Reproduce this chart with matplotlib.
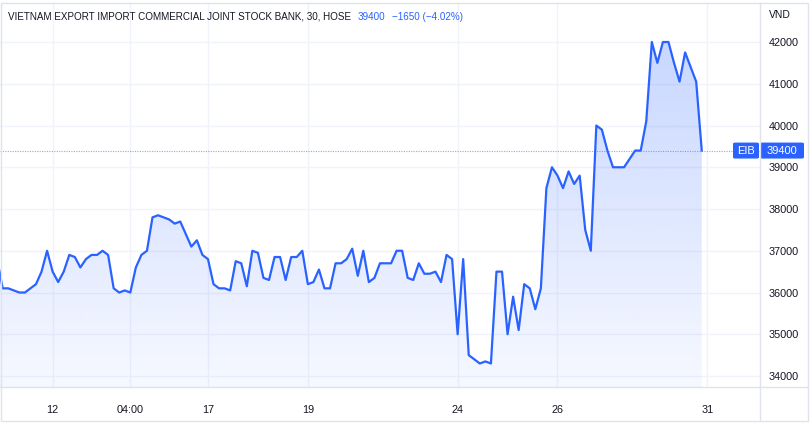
import numpy as np
import matplotlib
matplotlib.use('Agg')
import matplotlib.pyplot as plt
from matplotlib import font_manager
from matplotlib.patches import Rectangle, Polygon, FancyBboxPatch
from matplotlib.lines import Line2D

# ---------------- data ----------------
prices = [
    36800,
    36100, 36100, 36050, 36000, 36000, 36100, 36200, 36500, 37000, 36500,
    36250, 36500, 36900, 36850, 36600, 36800, 36900, 36900, 37000, 36900,
    36100, 36000, 36050, 36000, 36600, 36900, 37000, 37800, 37850, 37800,
    37750, 37650, 37700, 37400, 37100, 37250, 36900, 36800, 36200, 36100,
    36100, 36050, 36750, 36700, 36150, 37000, 36950, 36350, 36300, 36850,
    36850, 36300, 36850, 36850, 37000, 36200, 36250, 36550, 36100, 36100,
    36700, 36700, 36800, 37050, 36400, 37000, 36250, 36350, 36700, 36700,
    36700, 37000, 37000, 36350, 36300, 36700, 36450, 36450, 36500, 36250,
    36900, 36800, 35000, 36800, 34500, 34400, 34300, 34350, 34300, 36500,
    36500, 35000, 35900, 35100, 36200, 36100, 35600, 36100, 38500, 39000,
    38800, 38500, 38900, 38600, 38800, 37500, 37000, 40000, 39900, 39400,
    39000, 39000, 39000, 39200, 39400, 39400, 40100, 42000, 41500, 42000,
    42000, 41500, 41050, 41750, 41400, 41050, 39400,
]
bar_index = list(range(-1, len(prices) - 1))

x_tick_positions = [9, 23, 37, 55, 82, 100, 127]
x_tick_labels = ['12', '04:00', '17', '19', '24', '26', '31']
y_ticks = [34000, 35000, 36000, 37000, 38000, 39000, 40000, 41000, 42000]

last_price = 39400
title = "VIETNAM EXPORT IMPORT COMMERCIAL JOINT STOCK BANK, 30, HOSE"
price_text = "39400"
change_text = "\u22121650 (\u22124.02%)"
symbol = "EIB"
currency = "VND"

# ---------------- style ----------------
BLUE = '#2962FF'
TXT = '#131722'
GRID = '#f0f3fa'
BORDER = '#e0e3eb'

names = {f.name for f in font_manager.fontManager.ttflist}
BASE = 'Liberation Sans' if 'Liberation Sans' in names else 'DejaVu Sans'
plt.rcParams['font.family'] = [BASE, 'DejaVu Sans']

W, H = 810, 424
fig = plt.figure(figsize=(W / 100, H / 100), dpi=100)
fig.patch.set_facecolor('white')


def fx(px):
    return px / W


def fy(py):
    return 1 - py / H


PLOT_TOP, PLOT_BOTTOM, PLOT_RIGHT = 3, 387, 760
ax = fig.add_axes([0, fy(PLOT_BOTTOM), fx(PLOT_RIGHT), (PLOT_BOTTOM - PLOT_TOP) / H])
xlim = (-0.487, 136.5)
ylim = (33737, 42934)
ax.set_xlim(*xlim)
ax.set_ylim(*ylim)

# gradient fill under the line
xs = np.array(bar_index, dtype=float)
ys = np.array(prices, dtype=float)
verts = [(xs[0], ylim[0])] + list(zip(xs, ys)) + [(xs[-1], ylim[0])]
poly = Polygon(verts, closed=True, facecolor='none', edgecolor='none')
ax.add_patch(poly)
n = 256
alpha = np.linspace(0.28, 0.04, n)
rgba = np.zeros((n, 1, 4))
rgba[..., 0] = 41 / 255
rgba[..., 1] = 98 / 255
rgba[..., 2] = 1.0
rgba[:, 0, 3] = alpha
im = ax.imshow(rgba, extent=[xlim[0], xlim[1], ylim[0], ylim[1]], origin='upper',
               aspect='auto', interpolation='bilinear', zorder=1)
im.set_clip_path(poly)

ax.plot(xs, ys, color=BLUE, lw=1.6, solid_joinstyle='round', zorder=3)
ax.axhline(last_price, color=BLUE, lw=0.8, ls=(0, (1, 1.2)), alpha=0.55, zorder=2)

ax.set_xticks(x_tick_positions)
ax.set_xticklabels(x_tick_labels)
ax.set_yticks(y_ticks)
ax.yaxis.tick_right()
ax.grid(True, color=GRID, lw=1, zorder=0)
ax.set_axisbelow(True)
ax.tick_params(axis='y', length=0, pad=6.5, labelsize=7.8, labelcolor=TXT)
ax.tick_params(axis='x', length=0, pad=13, labelsize=7.8, labelcolor=TXT)
for s in ax.spines.values():
    s.set_visible(False)

# separators and frame
fig.add_artist(Line2D([0, fx(808)], [fy(PLOT_BOTTOM), fy(PLOT_BOTTOM)], color=BORDER, lw=1))
fig.add_artist(Line2D([fx(PLOT_RIGHT), fx(PLOT_RIGHT)], [fy(421), fy(PLOT_TOP)], color=BORDER, lw=1))
fig.add_artist(Rectangle((fx(0.5), fy(421)), fx(807.5), (421 - 3) / H, fill=False,
                         edgecolor=BORDER, lw=1))

# header: fit title to reference width (x 8 -> 351 px)
renderer = fig.canvas.get_renderer()
t = fig.text(fx(8), fy(16.5), title, fontsize=7.8, color=TXT, va='center', ha='left')
w = t.get_window_extent(renderer).width
t.set_fontsize(7.8 * 343 / w)
w = t.get_window_extent(renderer).width
hdr_size = t.get_fontsize()
p = fig.text(fx(8 + w + 7), fy(16.5), price_text, fontsize=hdr_size, color=BLUE,
             va='center', ha='left')
pw = p.get_window_extent(renderer).width
fig.text(fx(8 + w + 7 + pw + 6), fy(16.5), change_text, fontsize=hdr_size, color=BLUE,
         va='center', ha='left')
fig.text(fx(769), fy(15), currency, fontsize=7.5, color=TXT, va='center', ha='left')

# badge
ypix = PLOT_TOP + (ylim[1] - last_price) / (ylim[1] - ylim[0]) * (PLOT_BOTTOM - PLOT_TOP)
bh = 16
fig.add_artist(FancyBboxPatch((fx(733), fy(ypix + bh / 2)), fx(26), bh / H,
                              boxstyle='round,pad=0,rounding_size=0.003', color=BLUE, lw=0))
fig.add_artist(FancyBboxPatch((fx(760), fy(ypix + bh / 2)), fx(44), bh / H,
                              boxstyle='round,pad=0,rounding_size=0.003', color=BLUE, lw=0))
fig.text(fx(746), fy(ypix), symbol, fontsize=8, color='white', va='center', ha='center')
fig.text(fx(782), fy(ypix), str(last_price), fontsize=8, color='white', va='center', ha='center')

fig.savefig('out.png', dpi=100)
